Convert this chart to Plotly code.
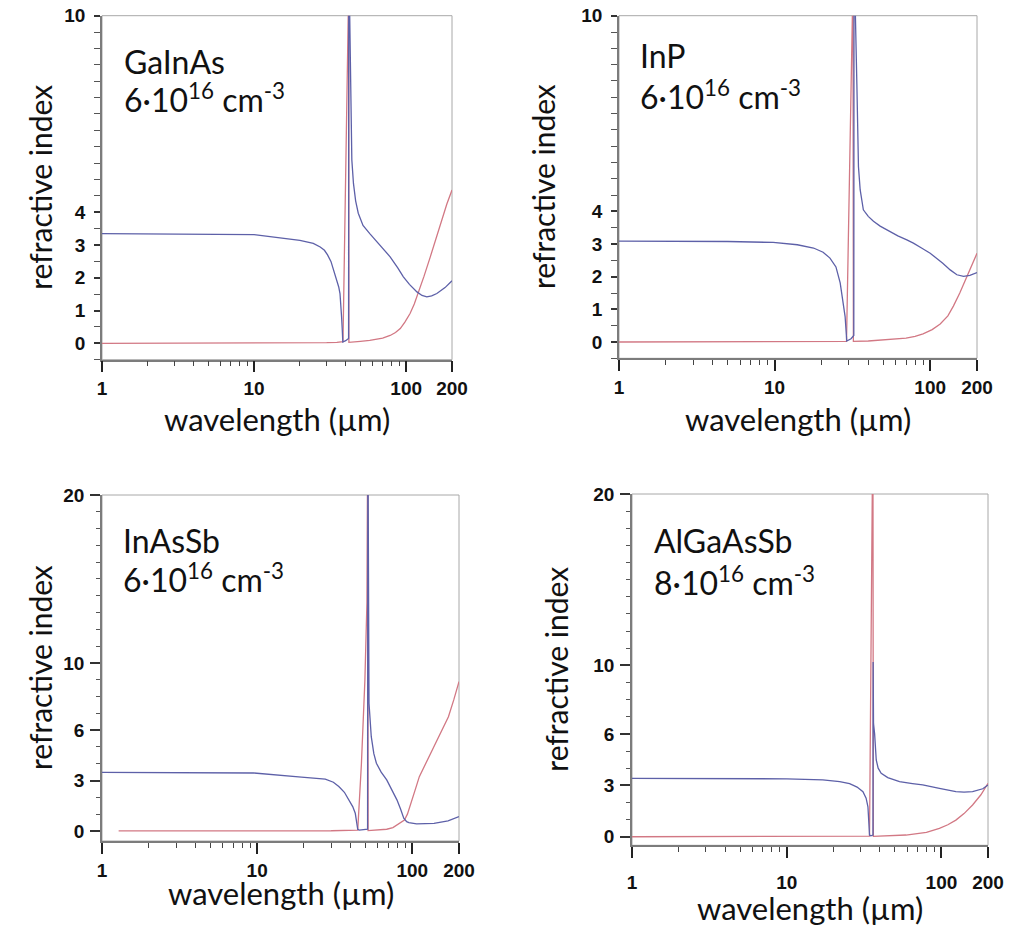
import math
import plotly.graph_objects as go

W, H = 1016, 937

# ---------------- data ----------------
# wavelength in micrometres, n = real part (blue), k = imaginary part (red)
gainas_n_wl = [1, 5, 10, 14.8, 20, 24.5, 27.2, 29, 30.4, 32, 33.3, 35, 36, 36.7, 37.2, 37.6, 38, 38.3, 40, 41.8,
               41.9, 42.4, 43, 43.9, 45, 46.5, 48.4, 52, 57.6, 67, 78.4, 88, 95.8, 105, 117.6, 127, 136.6, 147, 159, 180, 200]
gainas_n = [3.35, 3.34, 3.32, 3.22, 3.14, 3.05, 2.94, 2.84, 2.70, 2.50, 2.23, 1.94, 1.72, 1.52, 1.20, 0.80, 0.40, 0.04, 0.08, 0.15,
            12.0, 10.0, 7.5, 5.6, 4.88, 4.35, 3.97, 3.60, 3.35, 3.00, 2.64, 2.30, 2.03, 1.80, 1.57, 1.46, 1.42, 1.45, 1.52, 1.70, 1.91]
gainas_k_wl = [1, 10, 20, 30, 35, 38.4, 41.9, 42.0, 50, 57.6, 70, 78.4, 85, 91.4, 98, 106, 113, 120, 131, 144, 157, 171, 185, 200]
gainas_k = [0.0, 0.0, 0.01, 0.02, 0.03, 0.05, 11.0, 0.03, 0.06, 0.09, 0.16, 0.24, 0.33, 0.45, 0.65, 0.91, 1.20, 1.52, 2.05, 2.64, 3.20, 3.76, 4.25, 4.68]

inp_n_wl = [1, 5, 9.8, 14, 17.8, 20.5, 22.7, 24.8, 26.4, 27.5, 28.4, 29.1, 31, 32.3, 32.4, 33.8, 34.6, 35.5, 37.2, 40, 43.2,
            47.7, 55, 62, 70.8, 78, 88, 100, 120, 134.5, 148.5, 164, 180, 200]
inp_n = [3.09, 3.08, 3.05, 2.98, 2.88, 2.75, 2.57, 2.30, 1.81, 1.30, 0.78, 0.03, 0.10, 0.20, 12.0, 7.9, 5.38, 4.66, 4.05, 3.85, 3.70,
         3.55, 3.38, 3.25, 3.13, 3.03, 2.88, 2.72, 2.42, 2.21, 2.06, 2.01, 2.04, 2.13]
inp_k_wl = [1, 20, 29, 31.9, 32.1, 40, 55, 70, 80, 90, 103, 116, 130, 141, 155, 172, 185, 200]
inp_k = [0.0, 0.01, 0.02, 11.0, 0.02, 0.03, 0.07, 0.12, 0.17, 0.25, 0.38, 0.55, 0.80, 1.10, 1.50, 2.00, 2.35, 2.72]

inassb_n_wl = [1, 5, 9.5, 19.3, 24, 27.5, 31, 33.6, 36.5, 39.2, 41.3, 42.9, 43.8, 44.5, 45.5, 51.5, 51.7, 52.0, 52.6, 54.4,
               56.5, 58.7, 63, 68.4, 74, 79.6, 84, 88.1, 92, 95, 106.6, 120, 138, 170, 200]
inassb_n = [3.49, 3.48, 3.45, 3.20, 3.15, 3.08, 2.90, 2.64, 2.30, 1.85, 1.45, 1.05, 0.60, 0.10, 0.05, 0.10, 25.0, 12.0, 7.6, 5.61,
            4.60, 4.03, 3.50, 3.04, 2.45, 1.85, 1.30, 0.76, 0.55, 0.49, 0.42, 0.42, 0.45, 0.60, 0.85]
inassb_k_wl = [1.28, 10, 30, 44.5, 47, 49.5, 51.0, 51.5, 51.7, 51.9, 60, 68.4, 75, 79.6, 85, 89, 93, 97.5, 104, 111,
               125, 138, 155, 171, 185, 200]
inassb_k = [0.0, 0.0, 0.01, 0.05, 4.0, 9.0, 13.6, 22.0, 22.0, 0.02, 0.05, 0.10, 0.20, 0.36, 0.50, 0.65, 1.00, 1.55, 2.40, 3.23,
            4.20, 5.02, 5.90, 6.80, 7.80, 8.89]

algaassb_n_wl = [1, 5, 10, 17.1, 22, 25.5, 28.5, 31.1, 32.6, 33.5, 34.1, 34.3, 35, 36.1, 36.2, 36.4, 37, 37.9, 39, 40.8,
                 45, 53.6, 65, 75.7, 97, 110, 124, 140, 159, 185, 200]
algaassb_n = [3.41, 3.40, 3.38, 3.32, 3.22, 3.10, 2.90, 2.63, 2.25, 1.75, 0.58, 0.10, 0.05, 0.10, 10.2, 6.6, 6.0, 4.48, 4.00, 3.70,
              3.45, 3.21, 3.10, 3.02, 2.82, 2.72, 2.63, 2.60, 2.63, 2.80, 3.02]
algaassb_k_wl = [1, 10, 30, 34.3, 35.8, 36.1, 36.3, 45, 59, 80, 97, 110, 124, 140, 159, 180, 200]
algaassb_k = [0.0, 0.0, 0.01, 0.03, 21.0, 21.0, 0.02, 0.05, 0.10, 0.25, 0.49, 0.70, 0.97, 1.35, 1.85, 2.45, 3.12]

materials = ["GaInAs", "InP", "InAsSb", "AlGaAsSb"]
densities = ["6·10<sup>16</sup> cm<sup>-3</sup>", "6·10<sup>16</sup> cm<sup>-3</sup>",
             "6·10<sup>16</sup> cm<sup>-3</sup>", "8·10<sup>16</sup> cm<sup>-3</sup>"]
x_tickvals = [1, 10, 100, 200]
x_ticktext = ["1", "10", "100", "200"]
x_minor = [2, 3, 4, 5, 6, 7, 8, 9, 20, 30, 40, 50, 60, 70, 80, 90]
y_ticks_top = [0, 1, 2, 3, 4, 10]
y_ticks_bottom = [0, 3, 6, 10, 20]
x_title = "wavelength (µm)"
y_title = "refractive index"

# ---------------- layout geometry (pixels) ----------------
panels = [
    dict(n_wl=gainas_n_wl, n=gainas_n, k_wl=gainas_k_wl, k=gainas_k,
         box=(102, 452, 15.7, 359.7), yr=[-0.5, 10], yt=y_ticks_top, top=True,
         lab=(122, 61, 98), xstand=0, xt=419),
    dict(n_wl=inp_n_wl, n=inp_n, k_wl=inp_k_wl, k=inp_k,
         box=(619, 977, 15.7, 358.3), yr=[-0.5, 10], yt=y_ticks_top, top=True,
         lab=(638, 56, 95), xstand=0, xt=419),
    dict(n_wl=inassb_n_wl, n=inassb_n, k_wl=inassb_k_wl, k=inassb_k,
         box=(102, 459, 495, 841), yr=[-0.6, 20], yt=y_ticks_bottom, top=False,
         lab=(121, 540, 578), xstand=0, xt=893),
    dict(n_wl=algaassb_n_wl, n=algaassb_n, k_wl=algaassb_k_wl, k=algaassb_k,
         box=(632, 988, 494, 845.3), yr=[-0.5, 20], yt=y_ticks_bottom, top=False,
         lab=(652, 540, 581), xstand=8, xt=908),
]

BLUE = "#5d60a8"
RED = "#d27884"
TICKFONT = dict(family="Liberation Sans, Arial, sans-serif", size=19, color="#111", weight="bold")
TEXTFONT = "Lato, Calibri, sans-serif"

fig = go.Figure()
layout = dict(width=W, height=H, margin=dict(l=0, r=0, t=0, b=0),
              paper_bgcolor="white", plot_bgcolor="white", showlegend=False,
              annotations=[], shapes=[])

for i, p in enumerate(panels):
    sfx = "" if i == 0 else str(i + 1)
    xa, ya = "x" + sfx, "y" + sfx
    x0, x1, yt, yb = p["box"]
    fig.add_trace(go.Scatter(x=p["k_wl"], y=p["k"], mode="lines", xaxis=xa, yaxis=ya,
                             line=dict(color=RED, width=1.3), hoverinfo="skip"))
    fig.add_trace(go.Scatter(x=p["n_wl"], y=p["n"], mode="lines", xaxis=xa, yaxis=ya,
                             line=dict(color=BLUE, width=1.3), hoverinfo="skip"))
    xaxis = dict(type="log", range=[0, math.log10(200)], domain=[x0 / W, x1 / W],
                 anchor=ya, tickmode="array", tickvals=x_tickvals, ticktext=x_ticktext,
                 ticks="outside", ticklen=11, tickwidth=2, tickcolor="#222",
                 showline=True, linecolor="#7c7c7c", linewidth=1.5,
                 showgrid=False, zeroline=False, tickfont=TICKFONT,
                 ticklabelstandoff=p["xstand"], automargin=False,
                 minor=dict(tickmode="array", tickvals=x_minor, ticks="outside",
                            ticklen=5, tickwidth=1, tickcolor="#444", showgrid=False))
    if p["top"]:
        yminor = dict(dtick=0.5, tick0=0, ticks="outside", ticklen=6, tickwidth=1,
                      tickcolor="#555", showgrid=False)
        ylen = 6
    else:
        yminor = dict(dtick=1, tick0=0, ticks="outside", ticklen=4, tickwidth=1,
                      tickcolor="#555", showgrid=False)
        ylen = 10
    yaxis = dict(range=p["yr"], domain=[1 - yb / H, 1 - yt / H], anchor=xa,
                 tickmode="array", tickvals=p["yt"], ticks="outside", ticklen=ylen,
                 tickwidth=1.5, tickcolor="#333", showline=True, linecolor="#7c7c7c",
                 linewidth=1.5, showgrid=False, zeroline=False, tickfont=TICKFONT,
                 ticklabelstandoff=5 if p["top"] else 2, automargin=False, minor=yminor)
    layout["xaxis" + sfx] = xaxis
    layout["yaxis" + sfx] = yaxis
    # light frame (top / right)
    layout["shapes"].append(dict(type="rect", xref=xa + " domain", yref=ya + " domain",
                                 x0=0, x1=1, y0=0, y1=1,
                                 line=dict(color="#a8a8a8", width=1), layer="below"))
    # material label
    lx, ly1, ly2 = p["lab"]
    layout["annotations"].append(dict(text=materials[i], xref="paper", yref="paper",
                                      x=lx / W, y=1 - ly1 / H, xanchor="left", yanchor="middle",
                                      showarrow=False, font=dict(family=TEXTFONT, size=32, color="#111")))
    layout["annotations"].append(dict(text=densities[i], xref="paper", yref="paper",
                                      x=lx / W, y=1 - ly2 / H, xanchor="left", yanchor="middle",
                                      showarrow=False, font=dict(family=TEXTFONT, size=32, color="#111")))
    # axis titles
    xc = (x0 + x1) / 2
    layout["annotations"].append(dict(text=x_title, xref="paper", yref="paper",
                                      x=xc / W, y=1 - p["xt"] / H, xanchor="center", yanchor="middle",
                                      showarrow=False, font=dict(family=TEXTFONT, size=31, color="#111")))
    ytx = x0 - 62 if i % 2 == 0 else x0 - 76
    layout["annotations"].append(dict(text=y_title, xref="paper", yref="paper",
                                      x=ytx / W, y=1 - ((yt + yb) / 2) / H, xanchor="center",
                                      yanchor="middle", textangle=-90, showarrow=False,
                                      font=dict(family=TEXTFONT, size=30, color="#111")))

fig.update_layout(**layout)
fig.write_html("out.html")
